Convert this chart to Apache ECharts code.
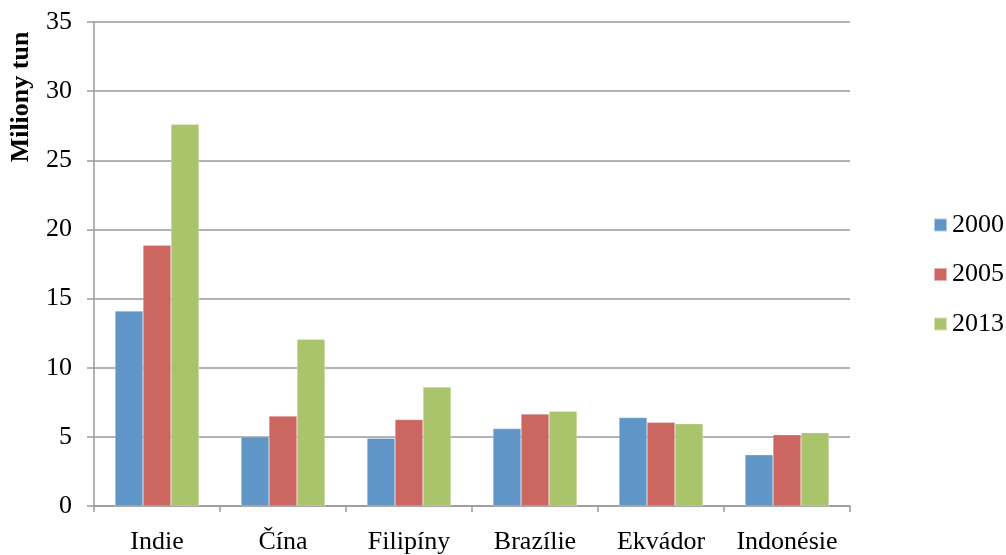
<!DOCTYPE html>
<html>
<head>
<meta charset="utf-8">
<script src="https://cdn.jsdelivr.net/npm/echarts@6/dist/echarts.min.js"></script>
<style>
  html, body { margin: 0; padding: 0; background: #fff; }
  #chart { width: 1006px; height: 555px; }
</style>
</head>
<body>
<div id="chart"></div>
<script>
// Production by country, millions of tonnes
const countries = ['Indie', 'Čína', 'Filipíny', 'Brazílie', 'Ekvádor', 'Indonésie'];
const years = ['2000', '2005', '2013'];
const values2000 = [14.1, 5.0, 4.9, 5.6, 6.4, 3.7];
const values2005 = [18.85, 6.5, 6.25, 6.65, 6.05, 5.15];
const values2013 = [27.6, 12.05, 8.6, 6.85, 5.95, 5.3];
const yTicks = { min: 0, max: 35, interval: 5 };
const axisTitle = 'Miliony tun';

const colors = ['#6095C8', '#CC6660', '#A9C46B'];
const serif = '"Liberation Serif", "DejaVu Serif", serif';
const axisGray = '#9a9a9a';

const chart = echarts.init(document.getElementById('chart'));

const seriesData = [values2000, values2005, values2013];

chart.setOption({
  animation: false,
  color: colors,
  textStyle: { fontFamily: serif },
  grid: { left: 94, width: 756, top: 22, height: 487, containLabel: false },
  legend: {
    orient: 'vertical',
    left: 933,
    top: 212,
    padding: 0,
    itemWidth: 13,
    itemHeight: 13,
    itemGap: 23.5,
    icon: 'rect',
    data: years,
    textStyle: { fontFamily: serif, fontSize: 26, color: '#000', lineHeight: 26 }
  },
  xAxis: {
    type: 'category',
    data: countries,
    axisLine: { lineStyle: { color: axisGray, width: 1.5 } },
    axisTick: { show: true, length: 6, lineStyle: { color: axisGray, width: 1.5 } },
    axisLabel: { fontFamily: serif, fontSize: 26, color: '#000', margin: 23, interval: 0 }
  },
  yAxis: {
    type: 'value',
    min: yTicks.min,
    max: yTicks.max,
    interval: yTicks.interval,
    axisLine: { show: true, lineStyle: { color: axisGray, width: 1.5 } },
    axisTick: { show: true, length: 7, lineStyle: { color: axisGray, width: 1.5 } },
    splitLine: { lineStyle: { color: axisGray, width: 1.5 } },
    axisLabel: { fontFamily: serif, fontSize: 26, color: '#000', margin: 22 }
  },
  graphic: [{
    type: 'text',
    x: 21,
    y: 97,
    rotation: Math.PI / 2,
    style: {
      text: axisTitle,
      font: 'bold 26px ' + serif,
      fill: '#000',
      align: 'center',
      verticalAlign: 'middle'
    }
  }],
  series: years.map((y, i) => ({
    name: y,
    type: 'bar',
    data: seriesData[i],
    barWidth: 28,
    barGap: '0%',
    itemStyle: { borderColor: 'rgba(255,255,255,0.5)', borderWidth: 0.5 }
  }))
});
</script>
</body>
</html>
